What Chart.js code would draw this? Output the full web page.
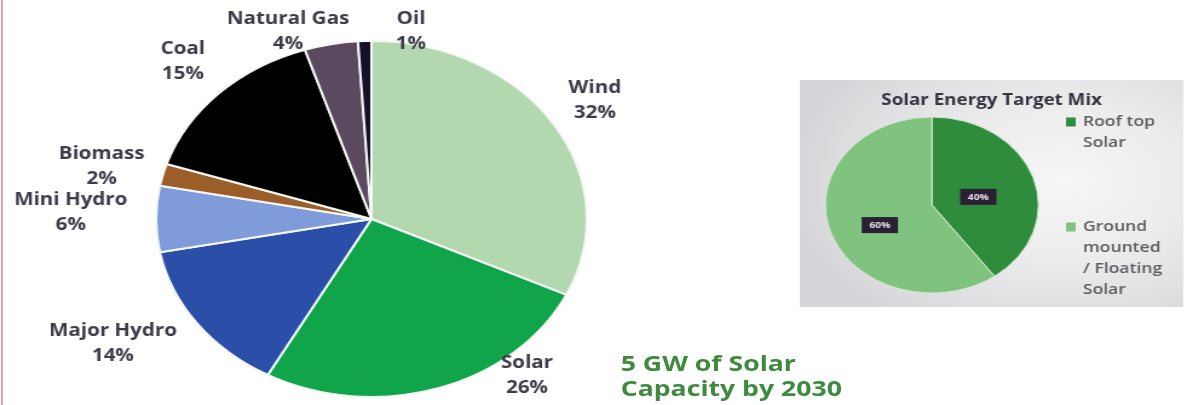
<!DOCTYPE html>
<html><head><meta charset="utf-8">
<script src="https://cdn.jsdelivr.net/npm/chart.js@4.4.0/dist/chart.umd.min.js"></script>
<style>
html,body{margin:0;padding:0;background:#fff;width:1191px;height:405px;overflow:hidden;}
#redline{position:absolute;left:1px;top:0;width:2px;height:405px;background:#eaa2a2;}
#wrap{position:absolute;left:0;top:0;width:985px;height:405px;transform:scaleX(1.21);transform-origin:0 0;}
#mainC{position:absolute;left:0;top:0;}
#box{position:absolute;left:661px;top:80px;width:317px;height:227px;
  background:radial-gradient(ellipse 70% 75% at 68% 45%, #f6f6f6 0%, #ececed 45%, #d6d6da 100%);}
#subC{position:absolute;left:661px;top:80px;}
#note{position:absolute;left:513px;top:350px;font:bold 22px 'Open Sans',sans-serif;color:#3e8a3f;line-height:25px;white-space:nowrap;}
</style></head>
<body>
<div id="redline"></div>
<div id="wrap">
  <canvas id="mainC" width="560" height="405"></canvas>
  <div id="box"></div>
  <canvas id="subC" width="317" height="227"></canvas>
  <div id="note">5 GW of Solar<br>Capacity by 2030</div>
</div>
<script>
// ---- main pie data ----
const categories = ['Wind', 'Solar', 'Major Hydro', 'Mini Hydro', 'Biomass', 'Coal', 'Natural Gas', 'Oil'];
const shares = [32, 26, 14, 6, 2, 15, 4, 1];
const sliceColors = ['#b3d8b0', '#10a54b', '#2b4fa9', '#7f9bd9', '#9c5e28', '#000000', '#5b4a5f', '#15102a'];

// ---- solar mix data ----
const subTitle = 'Solar Energy Target Mix';
const subCategories = ['Roof top Solar', 'Ground mounted / Floating Solar'];
const subShares = [40, 60];
const subLegendLines = [['Roof top', 'Solar'], ['Ground', 'mounted', '/ Floating', 'Solar']];
const subColors = ['#2f8c3d', '#80c37f'];

const mainLabels = {
  id: 'mainLabels',
  afterDatasetsDraw(chart, args, o) {
    const ctx = chart.ctx;
    const meta = chart.getDatasetMeta(0);
    ctx.save();
    ctx.font = o.font; ctx.fillStyle = o.color;
    ctx.textAlign = 'center'; ctx.textBaseline = 'middle';
    meta.data.forEach((arc, i) => {
      const p = arc.getProps(['x', 'y', 'startAngle', 'endAngle', 'outerRadius'], true);
      const a = (p.startAngle + p.endAngle) / 2 + o.nudge[i] * Math.PI / 180;
      const d = p.outerRadius + o.extra[i];
      const x = p.x + d * Math.cos(a), y = p.y + d * Math.sin(a);
      ctx.fillText(chart.data.labels[i], x, y - o.gap / 2);
      ctx.fillText(chart.data.datasets[0].data[i] + '%', x, y + o.gap / 2);
    });
    ctx.restore();
  }
};

new Chart(document.getElementById('mainC'), {
  type: 'pie',
  data: { labels: categories, datasets: [{ data: shares, backgroundColor: sliceColors, borderColor: '#f4f8f4', borderWidth: 2, radius: 178 }] },
  options: {
    responsive: false, devicePixelRatio: 1, animation: false,
    layout: { padding: { left: 54, right: 0, top: 33, bottom: 0 } },
    plugins: {
      legend: { display: false }, tooltip: { enabled: false },
      mainLabels: {
        font: 'bold 17px "Open Sans", sans-serif', color: '#3d3b48', gap: 25,
        nudge: [-0.3, -21.4, 5.7, 1.5, -1.3, 0.2, -9.45, 11.7],
        extra: [41.4, 24.5, 69.5, 70.6, 51, 43.3, 21.3, 11.8]
      }
    }
  },
  plugins: [mainLabels]
});

const subDecor = {
  id: 'subDecor',
  afterDatasetsDraw(chart, args, o) {
    const ctx = chart.ctx;
    const meta = chart.getDatasetMeta(0);
    ctx.save();
    // title
    ctx.font = 'bold 15.5px "Open Sans", sans-serif'; ctx.fillStyle = '#35323f';
    ctx.textAlign = 'center'; ctx.textBaseline = 'middle';
    ctx.fillText(subTitle, 158.5, 21);
    // data labels
    meta.data.forEach((arc, i) => {
      const p = arc.getProps(['x', 'y', 'startAngle', 'endAngle', 'outerRadius'], true);
      const a = (p.startAngle + p.endAngle) / 2 + o.nudge[i] * Math.PI / 180;
      const d = p.outerRadius * o.frac[i];
      const x = p.x + d * Math.cos(a), y = p.y + d * Math.sin(a);
      ctx.fillStyle = '#2a1f33';
      ctx.fillRect(x - 15, y - 8, 30, 16);
      ctx.fillStyle = '#e4e0e8';
      ctx.font = 'bold 8.5px "Open Sans", sans-serif';
      ctx.fillText(chart.data.datasets[0].data[i] + '%', x, y + 0.5);
    });
    // legend
    const tops = [42, 147];
    ctx.textAlign = 'left';
    ctx.font = '600 14.5px "Open Sans", sans-serif';
    subLegendLines.forEach((lines, i) => {
      ctx.fillStyle = subColors[i];
      ctx.fillRect(220, tops[i] - 4.5, 8, 9);
      ctx.fillStyle = '#5c5c60';
      lines.forEach((t, j) => ctx.fillText(t, 234, tops[i] + j * 21));
    });
    ctx.restore();
  }
};

new Chart(document.getElementById('subC'), {
  type: 'pie',
  data: { labels: subCategories, datasets: [{ data: subShares, backgroundColor: subColors, borderColor: '#cfe6cf', borderWidth: 1, radius: 88 }] },
  options: {
    responsive: false, devicePixelRatio: 1, animation: false,
    layout: { padding: { left: 0, right: 98.6, top: 23, bottom: 0 } },
    plugins: {
      legend: { display: false }, tooltip: { enabled: false },
      subDecor: { nudge: [6, -7], frac: [0.445, 0.54] }
    }
  },
  plugins: [subDecor]
});
</script>
</body></html>
